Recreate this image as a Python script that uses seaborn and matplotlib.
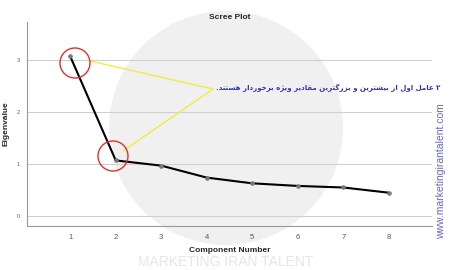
import matplotlib
matplotlib.use("Agg")
import matplotlib.pyplot as plt
import seaborn as sns
import pandas as pd
from matplotlib.patches import Circle

components = [1, 2, 3, 4, 5, 6, 7, 8]
eigenvalues = [3.07, 1.07, 0.97, 0.74, 0.63, 0.58, 0.55, 0.45]
y_ticks = [0, 1, 2, 3]
title = "Scree Plot"
x_label = "Component Number"
y_label = "Eigenvalue"
note_fa = "۲ عامل اول از بیشترین و بزرگترین مقادیر ویژه برخوردار هستند."
site = "www.marketingirantalent.com"
brand = "MARKETING IRAN TALENT"

# minimal Persian shaping (contextual forms + right-to-left order)
FORMS = {
    "ا": ("\uFE8D", "\uFE8E", None, None),
    "ب": ("\uFE8F", "\uFE90", "\uFE91", "\uFE92"),
    "ت": ("\uFE95", "\uFE96", "\uFE97", "\uFE98"),
    "خ": ("\uFEA5", "\uFEA6", "\uFEA7", "\uFEA8"),
    "د": ("\uFEA9", "\uFEAA", None, None),
    "ر": ("\uFEAD", "\uFEAE", None, None),
    "ز": ("\uFEAF", "\uFEB0", None, None),
    "ژ": ("\uFB8A", "\uFB8B", None, None),
    "س": ("\uFEB1", "\uFEB2", "\uFEB3", "\uFEB4"),
    "ش": ("\uFEB5", "\uFEB6", "\uFEB7", "\uFEB8"),
    "ع": ("\uFEC9", "\uFECA", "\uFECB", "\uFECC"),
    "ق": ("\uFED5", "\uFED6", "\uFED7", "\uFED8"),
    "گ": ("\uFB92", "\uFB93", "\uFB94", "\uFB95"),
    "ل": ("\uFEDD", "\uFEDE", "\uFEDF", "\uFEE0"),
    "م": ("\uFEE1", "\uFEE2", "\uFEE3", "\uFEE4"),
    "ن": ("\uFEE5", "\uFEE6", "\uFEE7", "\uFEE8"),
    "ه": ("\uFEE9", "\uFEEA", "\uFEEB", "\uFEEC"),
    "و": ("\uFEED", "\uFEEE", None, None),
    "ی": ("\uFBFC", "\uFBFD", "\uFBFE", "\uFBFF"),
}


def shape(text):
    out = []
    n = len(text)
    for i, ch in enumerate(text):
        if ch not in FORMS:
            out.append(ch)
            continue
        prev = text[i - 1] if i > 0 else ""
        nxt = text[i + 1] if i < n - 1 else ""
        jp = prev in FORMS and FORMS[prev][2] is not None
        jn = FORMS[ch][2] is not None and nxt in FORMS
        f = FORMS[ch]
        if jp and jn:
            out.append(f[3])
        elif jp:
            out.append(f[1])
        elif jn:
            out.append(f[2])
        else:
            out.append(f[0])
    return "".join(reversed(out))


sns.set_theme(style="white")
plt.rcParams["font.family"] = ["Liberation Sans", "DejaVu Sans"]

df = pd.DataFrame({"Component": components, "Eigenvalue": eigenvalues})

fig = plt.figure(figsize=(4.5, 2.7), dpi=100)
fig.patch.set_facecolor("white")

# faint watermark behind the axes
fig.patches.append(Circle((226, 142), 117, transform=None, facecolor="#f0f0f0",
                          edgecolor="none", zorder=-5))
fig.text(226 / 450, 1 - 269 / 270, brand, ha="center", va="bottom", fontsize=10,
         color="#e6e6e6", zorder=-5)

ax = fig.add_axes([27 / 450, 1 - 226 / 270, 405 / 450, 204 / 270])
ax.set_facecolor("none")
ax.set_zorder(1)

sns.lineplot(data=df, x="Component", y="Eigenvalue", ax=ax, color="black",
             linewidth=1.5, marker="o", markersize=2.5, markerfacecolor="#777777",
             markeredgecolor="#777777", zorder=3)

ax.set_xlim(0.05, 8.95)
ax.set_ylim(-0.19, 3.73)
ax.set_xticks(components)
ax.set_yticks(y_ticks)
ax.tick_params(axis="x", labelsize=5.5, colors="#555555", length=0, pad=6)
ax.tick_params(axis="y", labelsize=4, colors="#555555", length=0, pad=5)
ax.yaxis.grid(True, color="#d0d0d0", linewidth=0.8)
ax.xaxis.grid(False)
for s in ["top", "right"]:
    ax.spines[s].set_visible(False)
for s in ["left", "bottom"]:
    ax.spines[s].set_color("#999999")
    ax.spines[s].set_linewidth(0.8)

ax.set_title(title, fontsize=6, fontweight="bold", pad=2)
ax.set_xlabel(x_label, fontsize=6, fontweight="bold", labelpad=4)
ax.set_ylabel(y_label, fontsize=6, fontweight="bold", labelpad=5)

# annotation circles and yellow lines (figure pixel coords)
for (cx, cy) in [(75, 63), (113, 156)]:
    fig.patches.append(Circle((cx, 270 - cy), 15, transform=None, fill=False,
                              edgecolor="#e03030", linewidth=1.0, zorder=5))
fig.add_artist(plt.Line2D([90 / 450, 213 / 450, 123 / 450],
                          [1 - 61 / 270, 1 - 89 / 270, 1 - 151 / 270],
                          color="#f0ec40", linewidth=1.0, zorder=5))

fig.text(440 / 450, 1 - 88 / 270, shape(note_fa), ha="right", va="center",
         fontsize=5.0, fontweight="bold", color="#3535a8",
         family=["DejaVu Sans"], zorder=6)
fig.text(441 / 450, 1 - 171 / 270, site, rotation=90, ha="center", va="center",
         fontsize=7.5, color="#6666cc", zorder=6)

fig.savefig("out.png", dpi=100)
